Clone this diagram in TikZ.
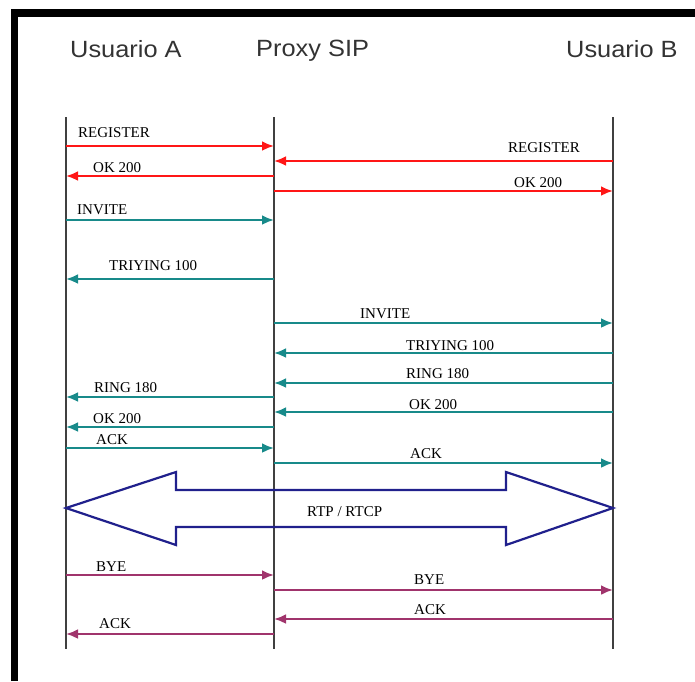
\documentclass[tikz,border=0pt]{standalone}
\usepackage{fontspec}
\setmainfont{Liberation Serif}
\newfontfamily\headfont[FakeStretch=1.08]{Liberation Sans}
\usetikzlibrary{arrows.meta}

\definecolor{sipred}{RGB}{255,22,22}
\definecolor{sipteal}{RGB}{24,138,138}
\definecolor{sipnavy}{RGB}{32,32,140}
\definecolor{sipplum}{RGB}{160,52,108}
\definecolor{lifegray}{RGB}{64,64,64}

\tikzset{
	head/.style={font=\headfont\fontsize{23.5}{28}\selectfont, text=black!80, anchor=base west, inner sep=0pt},
	lbl/.style={font=\fontsize{15}{18}\selectfont, anchor=base west, inner sep=0pt},
	life/.style={lifegray, line width=2pt},
	msg/.style={line width=2.5pt, -{Latex[length=12pt,width=10pt]}},
}

\begin{document}
\begin{tikzpicture}[x=1pt, y=-1pt]
	\useasboundingbox (0,0) rectangle (695,681);
	% frame
	\draw[line width=7.5pt] (14.5,681) |- (695,13);

	\node[head] (ua) at (70,57) {Usuario A};
	\node[head] (px) at (256,56) {Proxy SIP};
	\node[head] (ub) at (566,57) {Usuario B};

	% lifelines
	\foreach \l/\x in {a/66, p/274, b/613}
	{
		\coordinate (\l) at (\x,117);
		\coordinate (\l end) at (\x,649);
		\draw[life] (\l) -- (\l end);
	}

	% registro
	\foreach \f/\t/\y/\lx/\ly/\txt in {a/p/146/78/137/REGISTER, b/p/161/508/152/REGISTER,
		p/a/176/93/172/OK 200, p/b/191/514/187/OK 200}
	{
		\draw[msg, sipred] (\f |- 0,\y) -- (\t |- 0,\y);
		\node[lbl] (m\y) at (\lx,\ly) {\txt};
	}

	% establecimiento
	\foreach \f/\t/\y/\lx/\ly/\txt in {a/p/220/77/214/INVITE, p/a/279/109/270/TRIYING 100,
		p/b/323/360/318/INVITE, b/p/353/406/350/TRIYING 100, b/p/383/406/378/RING 180,
		p/a/397/94/392/RING 180, b/p/412/409/409/OK 200, p/a/427/93/423/OK 200,
		a/p/448/96/444/ACK, p/b/463/410/458/ACK}
	{
		\draw[msg, sipteal] (\f |- 0,\y) -- (\t |- 0,\y);
		\node[lbl] (m\y) at (\lx,\ly) {\txt};
	}

	% flujo de medios
	\draw[sipnavy, line width=2.2pt, line join=miter] (a |- 0,508) -- (176,472) -- (176,490) -- (506,490)
		-- (506,472) -- (b |- 0,508) -- (506,545) -- (506,527) -- (176,527) -- (176,545) -- cycle;
	\node[lbl] (rtp) at (307,516) {RTP / RTCP};

	% liberacion
	\foreach \f/\t/\y/\lx/\ly/\txt in {a/p/575/96/571/BYE, p/b/590/414/584/BYE,
		b/p/619/414/614/ACK, p/a/634/99/628/ACK}
	{
		\draw[msg, sipplum] (\f |- 0,\y) -- (\t |- 0,\y);
		\node[lbl] (m\y) at (\lx,\ly) {\txt};
	}
\end{tikzpicture}
\end{document}
